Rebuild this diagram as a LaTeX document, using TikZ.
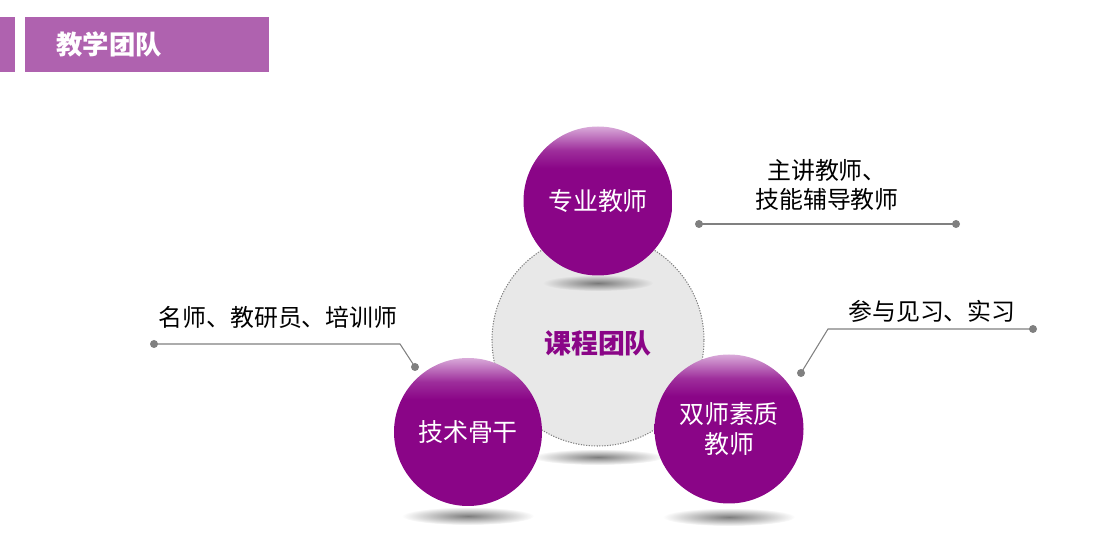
\documentclass[tikz,border=0pt]{standalone}
\usepackage{fontspec}
\newfontfamily\cjk{Noto Sans CJK SC}
\usetikzlibrary{fadings}
\definecolor{ballP}{HTML}{8A0587}
\definecolor{ballL}{HTML}{D9AAD9}
\definecolor{barP}{HTML}{AF62AF}
\definecolor{lineG}{HTML}{808080}
\definecolor{coreG}{HTML}{E8E8E8}
\pgfdeclareverticalshading{ballshade}{100bp}{color(0bp)=(ballP); color(61bp)=(ballP); color(67bp)=(ballP!75!ballL); color(75bp)=(ballL); color(100bp)=(ballL)}
\tikzfading[name=softshadow, inner color=transparent!15, outer color=transparent!100]
\tikzset{
  ball/.style={circle, minimum size=#1, inner sep=0pt, shading=ballshade, text=white, font=\cjk\fontsize{14.2}{17}\selectfont, align=center},
  lbl/.style={font=\cjk\fontsize{13.6}{16}\selectfont, text=black, align=center, inner sep=0pt},
  conn/.style={draw=lineG, line width=0.6pt},
  dotend/.style={fill=lineG},
  shadowell/.style={fill=black!60, path fading=softshadow}
}
\begin{document}
\begin{tikzpicture}[x=0.02cm,y=-0.02cm]
\useasboundingbox (0,0) rectangle (1109,536);
% header
\fill[barP] (0,17) rectangle (15,72);
\fill[barP] (25,17) rectangle (269,72);
\node[anchor=west, text=white, font=\cjk\bfseries\fontsize{15}{18}\selectfont, inner sep=0pt] (title) at (56,44) {教学团队};
% core circle
\node[circle, minimum size=212*0.02cm, fill=coreG, draw=lineG, line width=0.6pt, dash pattern=on 0.7pt off 0.8pt] (core) at (598,340) {};
\node[text=ballP, font=\cjk\bfseries\fontsize{15.3}{18}\selectfont] (coretext) at (598,343) {课程团队};
% shadows
\fill[shadowell] (598,283) ellipse (55 and 8);
\fill[shadowell] (598,457) ellipse (66 and 8);
\fill[shadowell] (468,516) ellipse (66 and 9);
\fill[shadowell] (729,517) ellipse (66 and 9);
% balls
\node[ball=149*0.02cm] (top) at (598,201) {专业教师};
\node[ball=148*0.02cm] (left) at (468,432) {技术骨干};
\node[ball=149*0.02cm] (right) at (729,429) {双师素质\\教师};
% labels
\node[lbl] (ltop) at (827,185) {主讲教师、\\技能辅导教师};
\node[lbl] (lright) at (932,311) {参与见习、实习};
\node[lbl] (lleft) at (278,317) {名师、教研员、培训师};
% connectors
\coordinate (t1) at (699,224);
\coordinate (t2) at (956,224);
\coordinate (r1) at (801,373);
\coordinate (r2) at (828,329);
\coordinate (r3) at (1033,329);
\coordinate (l1) at (154,344);
\coordinate (l2) at (400,344);
\coordinate (l3) at (415,367);
\draw[conn] (t1) -- (t2);
\draw[conn] (r1) -- (r2) -- (r3);
\draw[conn] (l1) -- (l2) -- (l3);
\foreach \p in {t1,t2,r1,r3,l1,l3} \fill[dotend] (\p) circle (4);
\end{tikzpicture}
\end{document}
